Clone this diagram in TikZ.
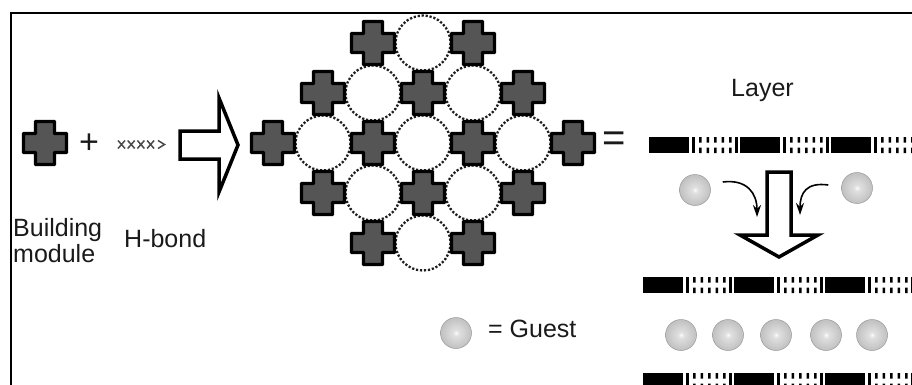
\documentclass[tikz,border=0pt]{standalone}
\usepackage{fontspec}
\setmainfont{Liberation Sans}
\usepackage{tikz}
\usetikzlibrary{arrows.meta, calc}
\definecolor{ModuleGray}{HTML}{555555}
\definecolor{InkBlack}{HTML}{1A1A1A}
\definecolor{BondGray}{HTML}{1E1E1E}
\pgfdeclareradialshading{guestball}{\pgfpoint{0bp}{0bp}}{color(0bp)=(gray!3); color(5bp)=(gray!25); color(24bp)=(gray!48); color(42bp)=(gray!62); color(50bp)=(gray!78)}
\tikzset{
  lbl/.style={font=\fontsize{25}{26}\selectfont, text=InkBlack, inner sep=0pt},
  module/.pic={\draw[line width=3.4pt, fill=ModuleGray, rounded corners=0.6pt]
    (-9.5,-21.5) -- (9.5,-21.5) -- (9.5,-9.5) -- (21.5,-9.5) -- (21.5,9.5) -- (9.5,9.5) -- (9.5,21.5)
    -- (-9.5,21.5) -- (-9.5,9.5) -- (-21.5,9.5) -- (-21.5,-9.5) -- (-9.5,-9.5) -- cycle;},
  bondring/.style={draw=BondGray, line width=2.3pt, dash pattern=on 2.2pt off 1.8pt},
  guest/.style={circle, minimum size=31pt, inner sep=0pt, shade, shading=guestball, draw=gray!80, line width=0.5pt},
  hollow/.style={draw=black, fill=white, line width=3.5pt, miter limit=20},
  guestarrow/.style={-{Stealth[length=12pt, width=8pt]}, line width=1.6pt}
}

\begin{document}
\begin{tikzpicture}[x=1pt, y=-1pt]
    \clip (0,0) rectangle (912,385);
    \draw[line width=2.4pt] (11.2,395) -- (11.2,12.8) -- (925,12.8);

    \pic at (45,143) {module};
    \node[lbl, font=\fontsize{34}{34}\selectfont] (plus) at (89,144) {+};
    \foreach \hx in {0,...,3}
        \draw[BondGray!80, line width=1.5pt] ({118+9.7*\hx},140.5) -- ++(7,8) ({118+9.7*\hx},148.5) -- ++(7,-8);
    \draw[BondGray!80, line width=1.5pt] (158,140.5) -- (164.5,144.5) -- (158,148.5);
    \node[lbl, anchor=north west, align=left] (bm) at (13,218.5) {Building\\module};
    \node[lbl, anchor=base west] (hb) at (124,247) {H-bond};
    \draw[hollow] (180,131) -- (219,131) -- (219,98) -- (238,145) -- (219,192) -- (219,159) -- (180,159) -- cycle;

    \foreach \cx/\cy in {423/43, 373/93, 473/93, 323/143, 423/143, 523/143, 373/193, 473/193, 423/243}
        \draw[bondring] (\cx,\cy) circle[radius=27.5];
    \foreach \mx/\my in {373/43, 473/43, 323/93, 423/93, 523/93, 273/143, 373/143, 473/143, 573/143,
                         323/193, 423/193, 523/193, 373/243, 473/243}
        \pic at (\mx,\my) {module};
    \node[lbl, font=\fontsize{40}{40}\selectfont] (eq) at (614,142) {=};

    \node[lbl, anchor=base west] (layer) at (731,97) {Layer};
    \foreach \lx/\ly in {649/145, 643/285, 643/381} {
        \foreach \k in {0,1,2} {
            \fill[black] ({\lx+91*\k},\ly-8) rectangle ++(40,16);
            \fill[black] ({\lx+91*\k+43},\ly-8) rectangle ++(2.5,16);
            \foreach \d in {0,...,4}
                \fill[black] ({\lx+91*\k+50+7.5*\d},\ly-8) rectangle ++(2.6,5.5)
                             ({\lx+91*\k+50+7.5*\d},\ly+2.5) rectangle ++(2.6,5.5);
            \fill[black] ({\lx+91*\k+86},\ly-8) rectangle ++(2.5,16);
        }
    }

    \node[guest] (gl) at (695,190) {};
    \node[guest] (gr) at (857,188) {};
    \draw[hollow] (767,172) -- (791,172) -- (791,235) -- (818,235) -- (779,257) -- (740,235) -- (767,235) -- cycle;
    \coordinate (dropL) at (757,217);
    \coordinate (dropR) at (800,215);
    \draw[guestarrow] ($(gl.east)+(12,-8)$) .. controls +(24,-3) and +(0,-24) .. (dropL);
    \draw[guestarrow] ($(gr.west)+(-13,-3)$) .. controls +(-22,-3) and +(0,-22) .. (dropR);

    \foreach \gx [count=\gi] in {681,728,776,826,872}
        \node[guest] (row\gi) at (\gx,335) {};
    \node[guest] (key) at (456,333) {};
    \node[lbl, anchor=base west] (legend) at (488,337) {= Guest};
\end{tikzpicture}
\end{document}
